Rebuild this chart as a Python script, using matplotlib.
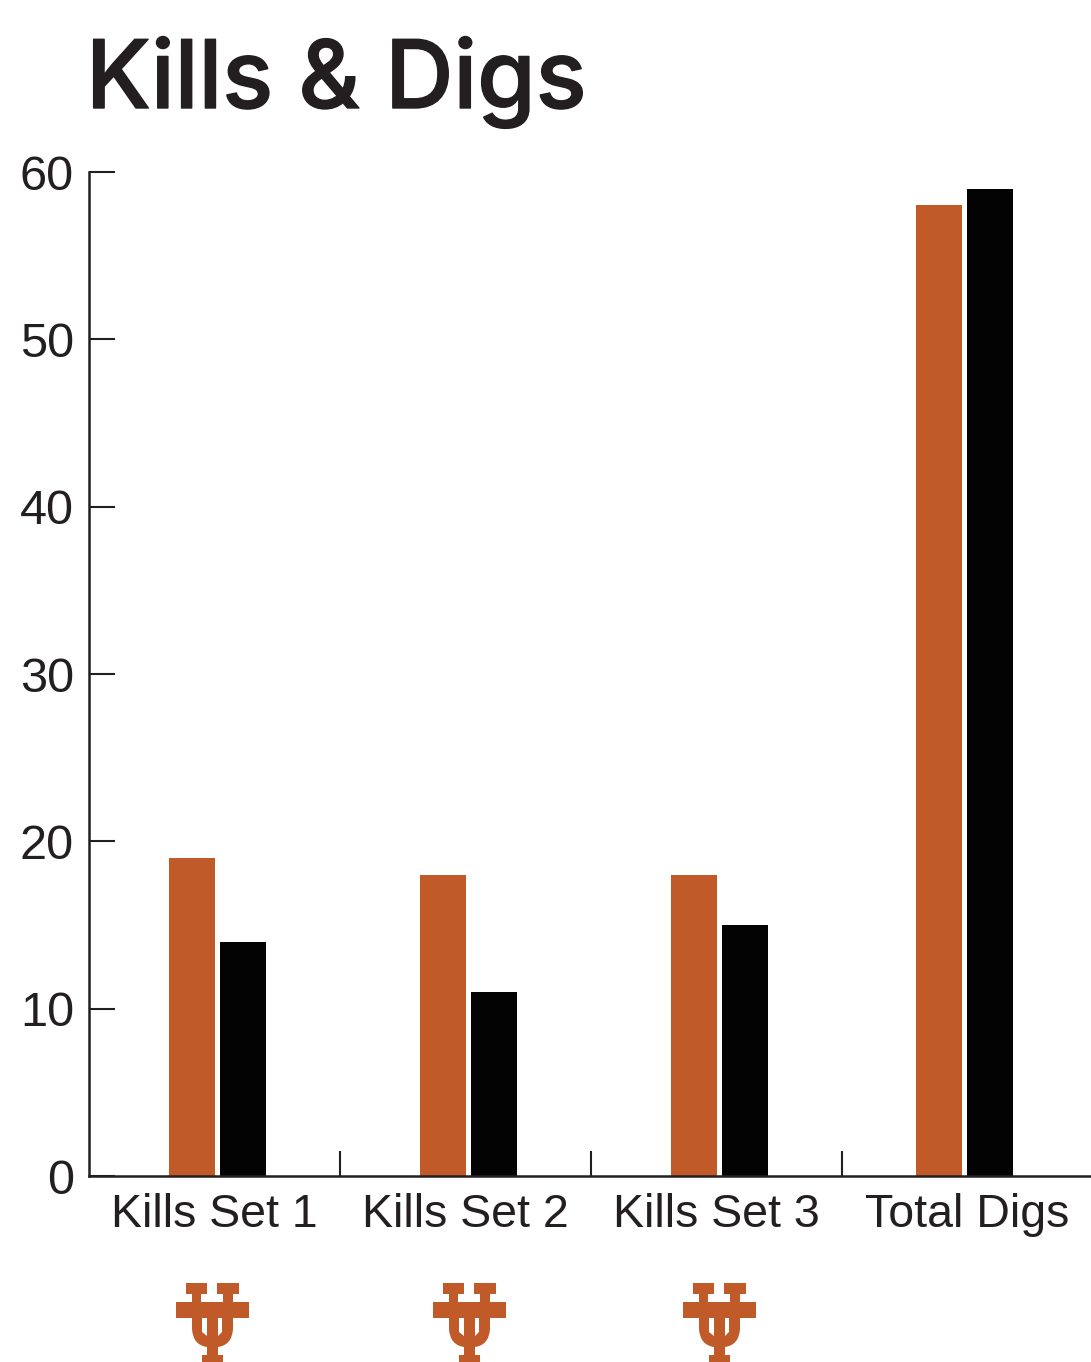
import matplotlib
matplotlib.use('Agg')
import matplotlib.pyplot as plt
import matplotlib.patheffects as pe
from matplotlib.patches import Polygon, PathPatch
from matplotlib.path import Path

categories = ['Kills Set 1', 'Kills Set 2', 'Kills Set 3', 'Total Digs']
orange_values = [19, 18, 18, 58]
black_values = [14, 11, 15, 59]
logo_centers = [212, 469, 719]

ORANGE = '#c05a28'
BLACK = '#030303'
TEXT = '#231f20'
W, H = 1091, 1362

plt.rcParams['font.family'] = ['Liberation Sans', 'DejaVu Sans']
fig = plt.figure(figsize=(W / 100, H / 100), dpi=100)

ax = fig.add_axes([88.5 / W, 1 - 1176 / H, 1004 / W, 1004 / H])
# groups sit a little off the category centre in the original
shift = [0.012, 0.012, 0.014, -0.011]
bar_w = 46 / 251
gap = 51 / 251
for i in range(len(categories)):
    ax.bar(i + shift[i] - gap / 2, orange_values[i], bar_w, color=ORANGE, zorder=3)
    ax.bar(i + shift[i] + gap / 2, black_values[i], bar_w, color=BLACK, zorder=3)

ax.set_xlim(-0.5, 3.5)
ax.set_ylim(0, 60)
ax.set_yticks(range(0, 61, 10))
ax.set_xticks(range(4))
ax.set_xticklabels(categories)
ax.set_xticks([0.5, 1.5, 2.5], minor=True)
ax.tick_params(axis='y', direction='in', length=18.5, width=1.5, color=TEXT,
               labelsize=35, labelcolor=TEXT, pad=10.5)
ax.tick_params(axis='x', which='major', length=0, labelsize=33.5, labelcolor=TEXT, pad=12)
ax.tick_params(axis='x', which='minor', direction='in', length=18, width=1.5, color=TEXT)
for s in ['top', 'right']:
    ax.spines[s].set_visible(False)
for s in ['left', 'bottom']:
    ax.spines[s].set_linewidth(1.8)
    ax.spines[s].set_color(TEXT)
    ax.spines[s].set_zorder(4)

title = fig.text(86 / W, 1 - 108 / H, 'Kills & Digs', fontsize=68, color=TEXT, ha='left', va='baseline',
                 family=['Inter', 'Liberation Sans'], weight='medium')
title.set_path_effects([pe.withStroke(linewidth=1.0, foreground=TEXT)])

# overlay in pixel coordinates for the logos
logo_ax = fig.add_axes([0, 0, 1, 1], facecolor='none')
logo_ax.set_xlim(0, W)
logo_ax.set_ylim(H, 0)
logo_ax.axis('off')


def draw_logo(cx):
    top = 1283
    verts = [(-26, 0), (-5, 0), (-5, 11), (-11, 11), (-11, 19), (11, 19), (11, 11), (5, 11), (5, 0), (27, 0),
             (27, 11), (21, 11), (21, 19), (37, 19), (37, 35), (21, 35), (21, 46),
             (20, 62), (6, 64), (6, 72), (11, 72), (11, 79), (-10, 79), (-10, 72), (-5, 72), (-5, 64),
             (-19, 62), (-20, 46), (-20, 35), (-36, 35), (-36, 19), (-20, 19), (-20, 11), (-26, 11), (-26, 0)]
    codes = [Path.MOVETO] + [Path.LINETO] * 16 + [Path.CURVE3] * 2 + [Path.LINETO] * 7 + \
            [Path.CURVE3] * 2 + [Path.LINETO] * 6 + [Path.CLOSEPOLY]
    verts = [(cx + x, top + y) for x, y in verts]
    logo_ax.add_patch(PathPatch(Path(verts, codes), fc=ORANGE, ec='none'))
    for x0, x1 in [(-10, -5), (6, 10)]:
        slit = [(cx + x0, top + 35), (cx + x1, top + 35), (cx + x1, top + 53 if x0 < 0 else top + 49),
                (cx + x0, top + 49 if x0 < 0 else top + 53)]
        logo_ax.add_patch(Polygon(slit, fc='white', ec='none'))


for c in logo_centers:
    draw_logo(c)

fig.savefig('out.png', dpi=100)
